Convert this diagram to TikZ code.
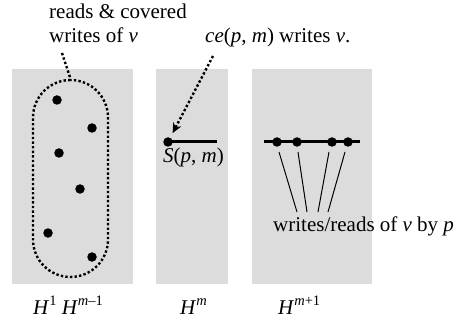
\documentclass[tikz,border=0pt]{standalone}
\usepackage{fontspec}
\setmainfont{Liberation Serif}
\usetikzlibrary{arrows.meta}
\definecolor{boxgray}{RGB}{220,220,220}
\newcommand{\supx}[1]{\raisebox{0.42em}{\fontsize{14.5}{14.5}\selectfont #1}}
\begin{document}
\begin{tikzpicture}[x=1pt,y=-1pt,
  panel/.style={fill=boxgray, draw=none},
  dotpt/.style={circle, fill=black, inner sep=0pt, minimum size=9.5pt},
  lbl/.style={inner sep=0pt, anchor=base west, font=\fontsize{21}{24}\selectfont},
  dotline/.style={line width=2.4pt, dash pattern=on 2.4pt off 2.2pt},
  thickline/.style={line width=3pt},
  thinline/.style={line width=1pt},
]
\useasboundingbox (0,0) rectangle (456,329);
% panels
\path[panel] (12,69) rectangle (133,284);
\path[panel] (156,69) rectangle (228,284);
\path[panel] (252,69) rectangle (372,284);
% group outline
\node (grp) [draw, dotline, rounded corners=37.5pt, minimum width=75pt, minimum height=197pt, inner sep=0pt] at (70.5,178.5) {};
% dots in left panel
\node[dotpt] (a1) at (57,100) {};
\node[dotpt] (a2) at (92,128) {};
\node[dotpt] (a3) at (59,153) {};
\node[dotpt] (a4) at (80,189) {};
\node[dotpt] (a5) at (48,233) {};
\node[dotpt] (a6) at (92,257) {};
% top labels
\node[lbl] (t1) at (49,19) {reads \& covered};
\node[lbl] (t2) at (49,43) {writes of \textit{v}};
\coordinate (lead) at (62,53);
\draw[dotline] (lead) -- (grp.north);
\node[lbl] (ce) at (205,43) {\textit{ce}(\textit{p}, \textit{m}) writes \textit{v}.};
\coordinate (cestart) at (213,56);
% middle panel
\node[dotpt] (s) at (168,142) {};
\coordinate (send) at (217,142);
\draw[thickline] (s.center) -- (send);
\draw[dotline, -{Stealth[length=10pt,width=9pt]}, shorten >=5pt] (cestart) -- (s);
\node[lbl] (slab) at (163,163) {\textit{S}(\textit{p}, \textit{m})};
% right panel
\coordinate (r0) at (264,142);
\coordinate (r5) at (360,142);
\draw[thickline] (r0) -- (r5);
\node[dotpt] (r1) at (277,142) {};
\node[dotpt] (r2) at (297,142) {};
\node[dotpt] (r3) at (332,142) {};
\node[dotpt] (r4) at (348,142) {};
\coordinate (u1) at (279,152); \coordinate (v1) at (297,212);
\coordinate (u2) at (298,152); \coordinate (v2) at (307,212);
\coordinate (u3) at (329,152); \coordinate (v3) at (318,212);
\coordinate (u4) at (345,152); \coordinate (v4) at (328,212);
\draw[thinline] (u1) -- (v1) (u2) -- (v2) (u3) -- (v3) (u4) -- (v4);
\node[lbl] (wr) at (273,232) {writes/reads of \textit{v} by \textit{p}};
% bottom labels
\node[lbl] (h1) at (33,314) {\textit{H}\supx{1} \textit{H}\supx{\textit{m}–1}};
\node[lbl] (hm) at (180,314) {\textit{H}\supx{\textit{m}}};
\node[lbl] (hm1) at (278,314) {\textit{H}\supx{\textit{m}+1}};
\end{tikzpicture}
\end{document}
